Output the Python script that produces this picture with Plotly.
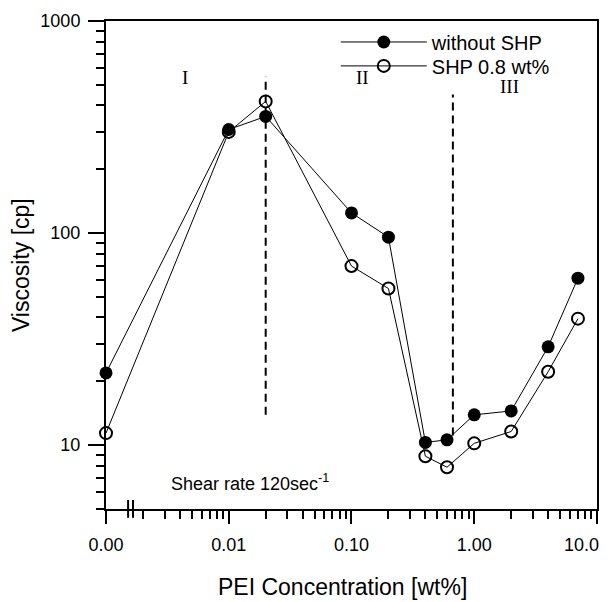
import math
import plotly.graph_objects as go

# ---- data ----
pei_conc = [0.001, 0.01, 0.02, 0.1, 0.2, 0.4, 0.6, 1.0, 2.0, 4.0, 7.0]
visc_without_shp = [21.9, 308, 355, 124.5, 95.7, 10.3, 10.6, 13.9, 14.5, 29.1, 61.3]
visc_shp_08 = [11.4, 300, 418, 69.9, 54.8, 8.87, 7.87, 10.2, 11.6, 22.2, 39.5]

boundary1_x = [0.02, 0.02]
boundary1_y = [13.9, 548]
boundary2_x = [0.67, 0.67]
boundary2_y = [11.1, 451]

region_labels = ["I", "II", "III"]
region_label_x = [0.0044, 0.124, 1.95]
region_label_y = [540, 540, 492]

x_tickvals = [0.001, 0.01, 0.1, 1, 10]
x_ticktext = ["0.00", "0.01", "0.10", "1.00", ""]
x_last_label = "10.0"
y_tickvals = [10, 100, 1000]
y_ticktext = ["10", "100", "1000"]

x_minor = [m * 10 ** e for e in (-3, -2, -1, 0) for m in range(2, 10)]
y_minor = [5, 6, 7, 8, 9] + [m * 10 ** e for e in (1, 2) for m in range(2, 10)]

FONT = "Liberation Sans, Arial, sans-serif"

fig = go.Figure()

fig.add_trace(go.Scatter(
    x=boundary1_x, y=boundary1_y, mode="lines", showlegend=False,
    line=dict(color="black", width=2, dash="8px,5px"), hoverinfo="skip"))
fig.add_trace(go.Scatter(
    x=boundary2_x, y=boundary2_y, mode="lines", showlegend=False,
    line=dict(color="black", width=2, dash="8px,5px"), hoverinfo="skip"))

fig.add_trace(go.Scatter(
    x=pei_conc, y=visc_without_shp, mode="lines+markers", name="without SHP",
    line=dict(color="black", width=1),
    marker=dict(symbol="circle", size=13, color="black"),
    cliponaxis=False, legend="legend"))
fig.add_trace(go.Scatter(
    x=pei_conc, y=visc_shp_08, mode="lines+markers", name="SHP 0.8 wt%",
    line=dict(color="black", width=1),
    marker=dict(symbol="circle-open", size=12, color="black", line=dict(width=2)),
    cliponaxis=False, legend="legend2"))

for lab, lx, ly in zip(region_labels, region_label_x, region_label_y):
    fig.add_annotation(x=math.log10(lx), y=math.log10(ly), text=lab,
                       showarrow=False, xref="x", yref="y",
                       xanchor="center", yanchor="middle",
                       font=dict(family="Liberation Serif, Times New Roman, serif",
                                 size=19, color="black"))

# last x tick label, nudged left so it stays inside the page (as in the original)
fig.add_annotation(x=math.log10(x_tickvals[-1]), y=-0.074, xref="x", yref="paper",
                   xanchor="right", yanchor="middle", xshift=4,
                   text=x_last_label, showarrow=False,
                   font=dict(family=FONT, size=18, color="black"))

fig.add_annotation(x=0.293, y=0.055, xref="paper", yref="paper",
                   xanchor="center", yanchor="middle",
                   text="Shear rate 120sec<sup>-1</sup>", showarrow=False,
                   font=dict(family=FONT, size=18, color="black"))

fig.add_annotation(x=0.481, y=-0.16, xref="paper", yref="paper",
                   xanchor="center", yanchor="middle",
                   text="PEI Concentration [wt%]", showarrow=False,
                   font=dict(family=FONT, size=23, color="black"))
fig.add_annotation(x=-0.173, y=0.5, xref="paper", yref="paper",
                   xanchor="center", yanchor="middle",
                   text="Viscosity [cp]", showarrow=False, textangle=-90,
                   font=dict(family=FONT, size=23, color="black"))

# axis break marks
for bx in (0.045, 0.055):
    fig.add_shape(type="line", xref="paper", yref="paper",
                  x0=bx, x1=bx, y0=-0.018, y1=0.0185,
                  line=dict(color="black", width=2))

axis_common = dict(
    type="log", showline=True, linecolor="black", linewidth=2, mirror=True,
    ticks="outside", tickwidth=2, tickcolor="black",
    showgrid=False, zeroline=False, automargin=False,
    tickfont=dict(family=FONT, size=18, color="black"),
)

legend_common = dict(
    xanchor="left", yanchor="middle", bgcolor="rgba(0,0,0,0)", borderwidth=0,
    font=dict(family=FONT, size=20, color="black"), itemwidth=86,
)

# page body has an 8px margin, so the figure is sized/offset to land on the window
fig.update_layout(
    width=603, height=594,
    margin=dict(l=98, r=14, t=13, b=93),
    paper_bgcolor="white", plot_bgcolor="white",
    xaxis=dict(range=[-3, 1.0002], tickmode="array", tickvals=x_tickvals,
               ticktext=x_ticktext, ticklen=13, ticklabelstandoff=5,
               minor=dict(tickmode="array", tickvals=x_minor, ticks="outside",
                          ticklen=8, tickwidth=2, tickcolor="black", showgrid=False),
               **axis_common),
    yaxis=dict(range=[math.log10(5), 3.0002], tickmode="array", tickvals=y_tickvals,
               ticktext=y_ticktext, ticklen=16, ticklabelstandoff=4,
               minor=dict(tickmode="array", tickvals=y_minor, ticks="outside",
                          ticklen=8, tickwidth=2, tickcolor="black", showgrid=False),
               **axis_common),
    legend=dict(x=0.468, y=0.957, **legend_common),
    legend2=dict(x=0.468, y=0.908, **legend_common),
    showlegend=True,
)

fig.write_html("out.html")
